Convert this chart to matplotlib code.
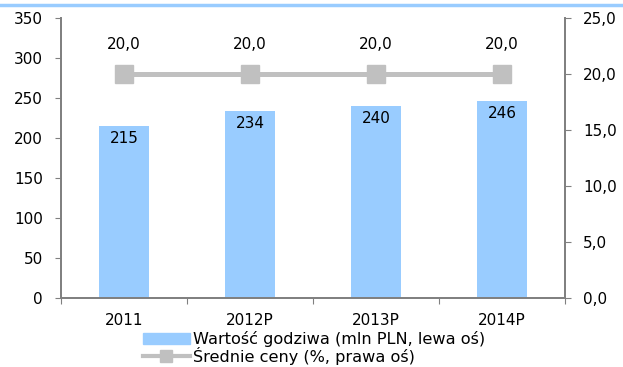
import matplotlib.pyplot as plt
import matplotlib.lines as mlines
import matplotlib.patches as mpatches

plt.rcParams['font.family'] = ['DejaVu Sans']
plt.rcParams['font.size'] = 11

years = ["2011", "2012P", "2013P", "2014P"]
fair_value = [215, 234, 240, 246]
avg_price = [20.0, 20.0, 20.0, 20.0]

bar_color = "#99ccff"
line_color = "#c0c0c0"
axis_color = "#808080"

fig = plt.figure(figsize=(6.23, 3.67), dpi=100)
ax = fig.add_axes([61 / 623, 1 - 298 / 367, 504 / 623, 280 / 367])
ax2 = ax.twinx()

x = list(range(len(years)))
ax.bar(x, fair_value, width=0.4, color=bar_color, zorder=2)
for xi, v in zip(x, fair_value):
    ax.text(xi, v - 6, str(v), ha="center", va="top")

ax2.plot(x, avg_price, color=line_color, lw=3.6, marker="s", markersize=13.5, zorder=3)
for xi, v in zip(x, avg_price):
    ax2.text(xi, v + 2.0, f"{v:.1f}".replace(".", ","), ha="center", va="bottom")

ax.set_xlim(-0.5, 3.5)
ax.set_ylim(0, 350)
ax.set_yticks(range(0, 351, 50))
ax2.set_ylim(0, 25)
ax2.set_yticks([0, 5, 10, 15, 20, 25])
ax2.set_yticklabels([f"{t:.1f}".replace(".", ",") for t in [0, 5, 10, 15, 20, 25]])

ax.set_xticks([-0.5, 0.5, 1.5, 2.5, 3.5])
ax.set_xticklabels([])
ax.set_xticks(x, minor=True)
ax.set_xticklabels(years, minor=True)
ax.tick_params(axis="x", which="minor", length=0, pad=11)
ax.tick_params(axis="x", which="major", length=4, color=axis_color, direction="out")
ax.tick_params(axis="y", length=4, color=axis_color, pad=9)
ax2.tick_params(axis="y", length=4, color=axis_color, pad=9)

for a in (ax, ax2):
    a.spines["top"].set_visible(False)
    for s in ("left", "right", "bottom"):
        a.spines[s].set_color(axis_color)
        a.spines[s].set_linewidth(1.3)

# top rule
fig.add_artist(mlines.Line2D([0, 1], [1 - 5 / 367, 1 - 5 / 367], color="#99ccff", lw=2.5))

handles = [
    mpatches.Patch(color=bar_color, label="Wartość godziwa (mln PLN, lewa oś)"),
    mlines.Line2D([], [], color=line_color, lw=3, marker="s", markersize=8,
                  label="Średnie ceny (%, prawa oś)"),
]
fig.legend(handles=handles, loc="upper left", bbox_to_anchor=(143 / 623, 1 - 331 / 367),
           frameon=False, handlelength=2.9, handletextpad=0.2, labelspacing=0.0,
           borderaxespad=0, borderpad=0, fontsize=11.6)

fig.savefig("out.png", dpi=100)
